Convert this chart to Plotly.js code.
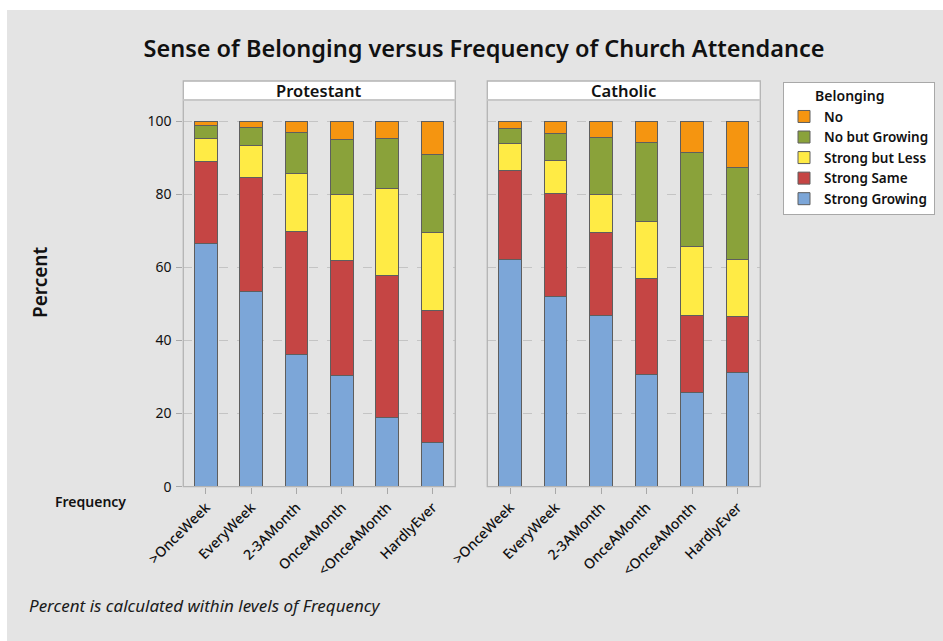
<!DOCTYPE html>
<html>
<head>
<meta charset="utf-8">
<script src="https://cdn.plot.ly/plotly-3.0.1.min.js"></script>
<style>html,body{margin:0;padding:0;background:#fff;}#chart{width:943px;height:641px;}</style>
</head>
<body>
<div id="chart"></div>
<script>
const frequencies = [">OnceWeek", "EveryWeek", "2-3AMonth", "OnceAMonth", "<OnceAMonth", "HardlyEver"];
const belongingLevels = ["Strong Growing", "Strong Same", "Strong but Less", "No but Growing", "No"];
const groups = ["Protestant", "Catholic"];

// Percent within each Frequency level (Protestant)
const protStrongGrowing = [66.5, 53.4, 36.1, 30.4, 19.0, 12.1];
const protStrongSame    = [22.5, 31.1, 33.7, 31.4, 38.8, 36.1];
const protStrongLess    = [6.3, 8.7, 15.8, 18.1, 23.7, 21.2];
const protNoGrowing     = [3.6, 5.1, 11.3, 15.1, 13.8, 21.5];
const protNo            = [1.1, 1.7, 3.1, 5.0, 4.7, 9.1];

// Percent within each Frequency level (Catholic)
const cathStrongGrowing = [62.1, 52.0, 46.8, 30.6, 25.8, 31.3];
const cathStrongSame    = [24.4, 28.2, 22.7, 26.4, 21.0, 15.3];
const cathStrongLess    = [7.4, 8.9, 10.4, 15.5, 18.9, 15.5];
const cathNoGrowing     = [4.1, 7.5, 15.5, 21.7, 25.7, 25.2];
const cathNo            = [2.0, 3.4, 4.6, 5.8, 8.6, 12.7];

const yTicks = [0, 20, 40, 60, 80, 100];

const colors = ["#7ca6d8", "#c54544", "#ffeb45", "#8aa23a", "#f59510"];
const protSeries = [protStrongGrowing, protStrongSame, protStrongLess, protNoGrowing, protNo];
const cathSeries = [cathStrongGrowing, cathStrongSame, cathStrongLess, cathNoGrowing, cathNo];

const W = 943, H = 641;
const px = x => x / W;
const py = y => 1 - y / H;

const FONT = "Noto Sans, Open Sans, sans-serif";
const traces = [];
belongingLevels.forEach((lvl, i) => {
  traces.push({
    type: "bar", x: frequencies, y: protSeries[i], name: lvl,
    xaxis: "x", yaxis: "y", legendgroup: lvl, showlegend: true,
    marker: {color: colors[i], line: {color: "#5e5e5e", width: 1}},
    width: 0.5, hoverinfo: "x+y+name"
  });
  traces.push({
    type: "bar", x: frequencies, y: cathSeries[i], name: lvl,
    xaxis: "x2", yaxis: "y2", legendgroup: lvl, showlegend: false,
    marker: {color: colors[i], line: {color: "#5e5e5e", width: 1}},
    width: 0.5, hoverinfo: "x+y+name"
  });
});

const pL = 183.3, pR = 455.3, cL = 487.3, cR = 760.3, stripTop = 81, plotTop = 100, plotBot = 486.7;
const yMax = 100 * (plotBot - plotTop) / (plotBot - 121);

const xCommon = {
  type: "category", range: [-0.5, 5.5], showline: false, showgrid: false, zeroline: false,
  ticks: "outside", ticklen: 6, tickcolor: "#a8a8a8", tickangle: -45,
  tickfont: {family: FONT, size: 14, color: "#111", weight: 500}, fixedrange: true
};
const yCommon = {
  range: [0, yMax], tickvals: yTicks, showgrid: true, gridcolor: "#c4c4c4", griddash: "dash",
  gridwidth: 1, zeroline: false, showline: false, fixedrange: true
};

const shapes = [
  {type: "rect", xref: "paper", yref: "paper", x0: px(7), x1: 1, y0: 0, y1: py(10), fillcolor: "#e4e4e4", line: {width: 0}, layer: "below"},
];
[[pL, pR], [cL, cR]].forEach(([l, r]) => {
  shapes.push({type: "rect", xref: "paper", yref: "paper", x0: px(l), x1: px(r), y0: py(plotTop), y1: py(stripTop), fillcolor: "#ffffff", line: {width: 0}, layer: "below"});
  shapes.push({type: "rect", xref: "paper", yref: "paper", x0: px(l), x1: px(r), y0: py(plotBot), y1: py(stripTop), line: {color: "#b4b4b4", width: 1.3}, layer: "above"});
  shapes.push({type: "line", xref: "paper", yref: "paper", x0: px(l), x1: px(r), y0: py(plotTop), y1: py(plotTop), line: {color: "#c8c8c8", width: 2}, layer: "above"});
});

const ann = (text, x, y, font, extra) => Object.assign({
  text: text, x: px(x), y: py(y), xref: "paper", yref: "paper",
  xanchor: "center", yanchor: "middle", showarrow: false, font: font
}, extra || {});

const annotations = [
  ann("Protestant", (pL + pR) / 2, 90, {family: FONT, size: 16.5, color: "#111", weight: 600}),
  ann("Catholic", (cL + cR) / 2, 90, {family: FONT, size: 16.5, color: "#111", weight: 600}),
  ann("Percent", 40, 283, {family: FONT, size: 19, color: "#111", weight: 600}, {textangle: -90}),
  ann("Frequency", 128, 501, {family: FONT, size: 14, color: "#111", weight: 600}, {xanchor: "right"}),
  ann("<i>Percent is calculated within levels of Frequency</i>", 27, 605, {family: FONT, size: 17, color: "#1a1a1a"}, {xanchor: "left"})
];

const layout = {
  width: W, height: H,
  margin: {l: 0, r: 0, t: 0, b: 0, pad: 0},
  paper_bgcolor: "#ffffff", plot_bgcolor: "#ffffff",
  barmode: "stack", bargap: 0.5,
  title: {text: "Sense of Belonging versus Frequency of Church Attendance", x: px(484), xanchor: "center", y: py(49), yanchor: "middle", font: {family: FONT, size: 23.5, color: "#111", weight: 600}},
  xaxis: Object.assign({}, xCommon, {domain: [px(pL), px(pR)], anchor: "y"}),
  xaxis2: Object.assign({}, xCommon, {domain: [px(cL), px(cR)], anchor: "y2"}),
  yaxis: Object.assign({}, yCommon, {domain: [py(plotBot), py(plotTop)], anchor: "x", ticks: "outside", ticklen: 6, tickcolor: "#a8a8a8", tickfont: {family: FONT, size: 14, color: "#111"}, ticklabelstandoff: 2}),
  yaxis2: Object.assign({}, yCommon, {domain: [py(plotBot), py(plotTop)], anchor: "x2", showticklabels: false, ticks: ""}),
  legend: {
    x: px(783), y: py(82), xanchor: "left", yanchor: "top",
    bgcolor: "#ffffff", bordercolor: "#a8a8a8", borderwidth: 1,
    traceorder: "reversed", itemwidth: 30,
    title: {text: "&nbsp;&nbsp;&nbsp;&nbsp;&nbsp;&nbsp;&nbsp;&nbsp;Belonging", font: {family: FONT, size: 14, color: "#111", weight: 600}},
    font: {family: FONT, size: 13.5, color: "#111", weight: 600},
    itemclick: false, itemdoubleclick: false
  },
  shapes: shapes,
  annotations: annotations,
  showlegend: true
};

Plotly.newPlot("chart", traces, layout, {displayModeBar: false, staticPlot: true});
</script>
</body>
</html>
